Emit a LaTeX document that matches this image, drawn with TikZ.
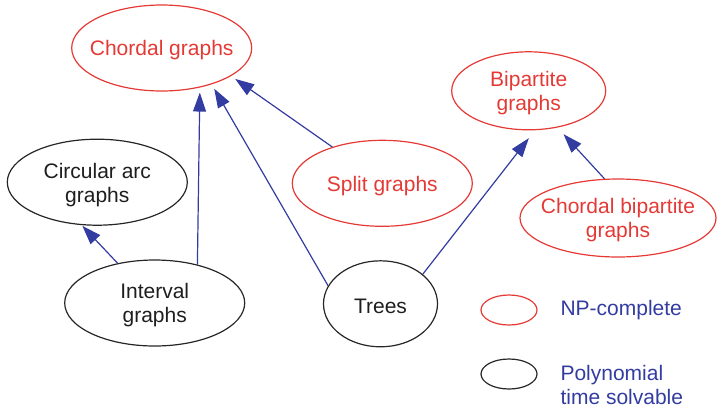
\documentclass[tikz,border=0pt]{standalone}
\usepackage{fontspec}
\setmainfont{Liberation Sans}
\usepackage{tikz}
\usetikzlibrary{shapes.geometric,arrows.meta}
\definecolor{npred}{RGB}{229,57,53}
\definecolor{isablue}{RGB}{51,60,160}
\definecolor{polytext}{RGB}{30,30,30}

\begin{document}
\begin{tikzpicture}[x=1pt,y=-1pt,
  every node/.style={font=\fontsize{21}{24}\selectfont},
  np/.style={ellipse,draw=npred,line width=1.2pt,inner sep=0pt},
  poly/.style={ellipse,draw=black!85,line width=1.2pt,inner sep=0pt},
  nplabel/.style={text=npred,align=center,yshift=-2.5pt},
  polylabel/.style={text=polytext,align=center,yshift=-2.5pt},
  isa/.style={draw=isablue,line width=1.2pt,-{Triangle[length=19pt,width=13pt]}}]
\useasboundingbox (0,0) rectangle (717,408);
% classes
\node[np,minimum width=180pt,minimum height=86pt,label={[nplabel]center:Chordal graphs}] (chordal) at (161.7,48) {};
\node[np,minimum width=154pt,minimum height=78pt,label={[nplabel]center:Bipartite\\graphs}] (bip) at (528.7,90.8) {};
\node[poly,minimum width=180pt,minimum height=86pt,label={[polylabel]center:Circular arc\\graphs}] (circ) at (97.3,182.2) {};
\node[np,minimum width=180pt,minimum height=86pt,label={[nplabel]center:Split graphs}] (split) at (382.3,183.3) {};
\node[np,minimum width=196pt,minimum height=78pt,label={[nplabel]center:Chordal bipartite\\graphs}] (chbip) at (618,218) {};
\node[poly,minimum width=180pt,minimum height=86pt,label={[polylabel]center:Interval\\graphs}] (interval) at (154.7,303) {};
\node[poly,minimum width=114pt,minimum height=86pt,label={[polylabel]center:Trees}] (trees) at (380.5,303.8) {};
% inclusions
\draw[isa,shorten >=1pt] (interval.133) -- (circ.250);
\draw[isa,shorten >=5pt] (interval.42) -- (chordal.314);
\draw[isa,shorten >=5pt] (trees.161) -- (chordal.324);
\draw[isa,shorten >=5pt] (split.144) -- (chordal.338);
\draw[isa,shorten >=10pt] (trees.35) -- (bip.279);
\draw[isa,shorten >=9pt] (chbip.109) -- (bip.308);
% legend
\node[np,minimum width=56pt,minimum height=30pt] (npkey) at (509,310) {};
\node[poly,minimum width=56pt,minimum height=30pt] (polykey) at (509,374) {};
\node[anchor=west,text=isablue] (npkeytext) at (557,310) {NP-complete};
\node[anchor=west,text=isablue,align=left] (polykeytext) at (557,384.5) {Polynomial\\time solvable};
\end{tikzpicture}
\end{document}
